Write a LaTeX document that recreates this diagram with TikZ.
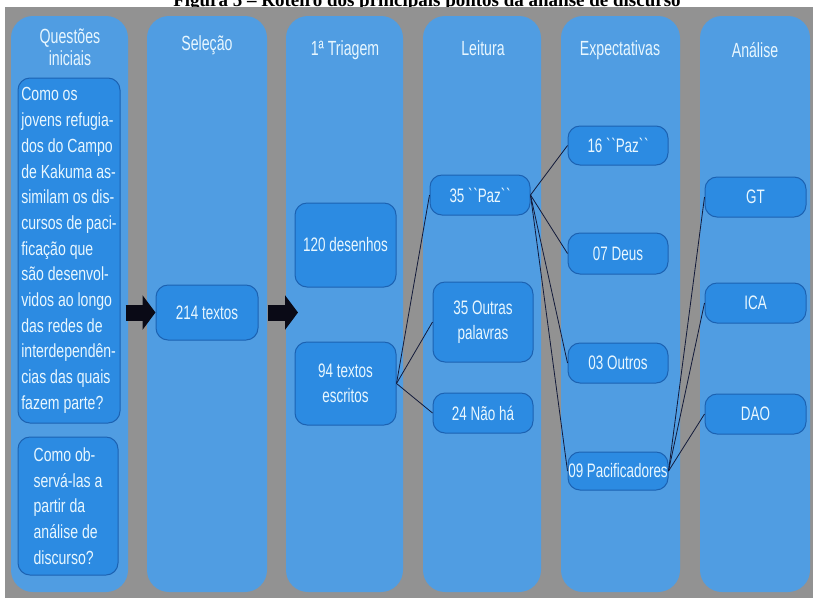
\documentclass[tikz,border=0pt]{standalone}
\usepackage{fontspec}
\usepackage{xcolor}
\usepackage{tikz}
\usetikzlibrary{arrows.meta, positioning}
\newfontfamily\narrowsf[FakeStretch=0.69]{Liberation Sans}
\newfontfamily\qsf[FakeStretch=0.74]{Liberation Sans}
\newfontfamily\titleserif{Liberation Serif}
\definecolor{cgray}{RGB}{146,146,146}
\definecolor{ccol}{RGB}{80,157,226}
\definecolor{cbox}{RGB}{44,139,226}
\definecolor{cboxline}{RGB}{28,98,178}
\definecolor{ctext}{RGB}{232,247,255}
\definecolor{cline}{RGB}{18,26,58}
\definecolor{carrow}{RGB}{10,10,22}
\newcommand{\bq}{\char96\kern0.6pt\char96}

\begin{document}
\begin{tikzpicture}[
    x=1pt, y=-1pt,
    head/.style={text=ctext, font=\narrowsf\fontsize{20.5}{22.5}\selectfont, align=center},
    box/.style={draw=cboxline, fill=cbox, line width=1pt, rounded corners=12pt,
        text=ctext, font=\narrowsf\fontsize{19.5}{24.5}\selectfont,
        inner sep=0pt, minimum width=100pt, align=center},
    qbox/.style={box, font=\qsf\fontsize{19}{25.7}\selectfont, align=left},
    conn/.style={draw=cline, line width=0.8pt},
    bigarrow/.style={carrow, line width=16pt, -{Triangle[length=13pt 0 0, width=34pt 0 0]}},
]
    \useasboundingbox (0,0) rectangle (813,598);

    % Title (cut at the top)
    \node[anchor=base, font=\titleserif\bfseries\fontsize{19}{22}\selectfont] (title) at (427,6)
        {Figura 5 – Roteiro dos principais pontos da análise de discurso};

    % Background and columns
    \fill[cgray] (5,7) rectangle (813,598);
    \foreach \xa/\xb in {11/128, 147/267, 286/403, 423/541, 561/680, 700/810}
        \fill[ccol, rounded corners=22pt] (\xa,16) rectangle (\xb,592);

    % Headers
    \node[head] (hques) at (70,47) {Questões\\iniciais};
    \node[head] (hsel) at (207,45) {Seleção};
    \node[head] (htri) at (345,50) {1ª Triagem};
    \node[head] (hlei) at (483,48) {Leitura};
    \node[head] (hexp) at (620,50) {Expectativas};
    \node[head] (hana) at (755,50) {Análise};

    % Questions
    \node[qbox, minimum width=102pt, minimum height=345pt] (q1) at (69,250.5)
        {Como os\\jovens refugia-\\dos do Campo\\de Kakuma as-\\similam os dis-\\cursos de paci-\\ficação que\\são desenvol-\\vidos ao longo\\das redes de\\interdependên-\\cias das quais\\fazem parte?};
    \node[qbox, minimum height=138pt] (q2) at (68,506)
        {Como ob-\\servá-las a\\partir da\\análise de\\discurso?};

    % Selection and first sorting
    \node[box, minimum width=102pt, minimum height=55pt] (sel) at (207,312.5) {214 textos};
    \node[box, minimum width=101pt, minimum height=84pt] (des) at (345.5,245) {120 desenhos};
    \node[box, minimum width=101pt, minimum height=83pt] (esc) at (345.5,383.5) {94 textos\\escritos};

    % Reading
    \node[box, minimum height=40pt] (paz) at (480,195) {35 \bq Paz\bq};
    \node[box, minimum height=80pt] (outras) at (483,322) {35 Outras\\palavras};
    \node[box, minimum height=40pt] (nao) at (483,413) {24 Não há};

    % Expectations
    \node[box, minimum height=39pt] (paz16) at (618,145.5) {16 \bq Paz\bq};
    \node[box, minimum height=41pt] (deus) at (618,253.5) {07 Deus};
    \node[box, minimum height=40pt] (outros) at (618,363) {03 Outros};
    \node[box, minimum height=38pt] (pac) at (618,471) {09 Pacificadores};

    % Analysis
    \node[box, minimum width=101pt, minimum height=40pt] (gt) at (755.5,197) {GT};
    \node[box, minimum width=101pt, minimum height=40pt] (ica) at (755.5,303) {ICA};
    \node[box, minimum width=101pt, minimum height=40pt] (dao) at (755.5,414) {DAO};

    % Block arrows
    \coordinate (tri) at (298,312.5);
    \draw[bigarrow] ([xshift=5pt]q1.east |- sel.west) -- (sel.west);
    \draw[bigarrow] ([xshift=9pt]sel.east) -- (tri);

    % Connectors
    \foreach \t in {paz, outras, nao}
        \draw[conn] (esc.east) -- (\t.west);
    \foreach \t in {paz16, deus, outros, pac}
        \draw[conn] (paz.east) -- (\t.west);
    \foreach \t in {gt, ica, dao}
        \draw[conn] (pac.east) -- (\t.west);
\end{tikzpicture}
\end{document}
